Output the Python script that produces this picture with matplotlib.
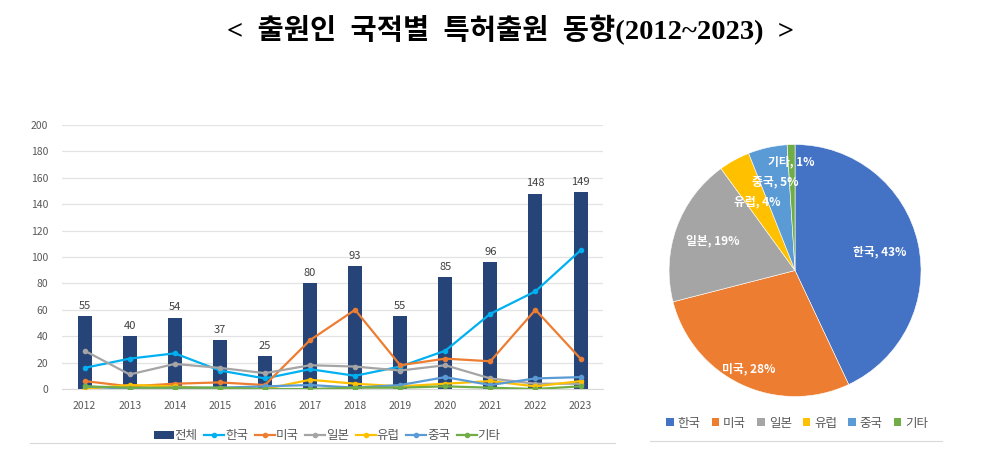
import matplotlib
matplotlib.use("Agg")
import matplotlib.pyplot as plt
import numpy as np
from matplotlib.lines import Line2D
from matplotlib.patches import Patch

plt.rcParams['font.family'] = ['Noto Sans CJK KR', 'DejaVu Sans']

years = ['2012', '2013', '2014', '2015', '2016', '2017',
         '2018', '2019', '2020', '2021', '2022', '2023']
total = [55, 40, 54, 37, 25, 80, 93, 55, 85, 96, 148, 149]
korea = [16, 23, 27, 14, 8, 15, 10, 17, 29, 57, 74, 105]
usa = [6, 2, 4, 5, 3, 37, 60, 18, 23, 21, 60, 23]
japan = [29, 11, 19, 16, 12, 18, 17, 14, 18, 8, 4, 4]
europe = [0, 3, 2, 0, 0, 7, 4, 2, 4, 6, 2, 6]
china = [2, 0, 1, 1, 2, 3, 1, 3, 9, 3, 8, 9]
other = [2, 1, 1, 1, 0, 0, 1, 1, 2, 1, 0, 2]

countries = ['한국', '미국', '일본', '유럽', '중국', '기타']
share = [43, 28, 19, 4, 5, 1]

bar_color = '#264478'
line_colors = ['#00B0F0', '#ED7D31', '#A5A5A5', '#FFC000', '#5B9BD5', '#70AD47']
pie_colors = ['#4472C4', '#ED7D31', '#A5A5A5', '#FFC000', '#5B9BD5', '#70AD47']
text_gray = '#595959'

fig = plt.figure(figsize=(9.88, 4.57), dpi=100)
fig.text(0.517, 0.934, '<  출원인  국적별  특허출원  동향(2012~2023)  >',
         ha='center', va='center', fontsize=20.5, fontweight='bold', color='black',
         family=['Liberation Serif', 'Noto Sans CJK KR'])

# bar + line chart
ax = fig.add_axes([0.0628, 0.1488, 0.5476, 0.5777])
x = np.arange(len(years))
bars = ax.bar(x, total, width=0.31, color=bar_color, zorder=2, label='전체')
for xi, v in zip(x, total):
    ax.text(xi, v + 4, str(v), ha='center', va='bottom', fontsize=8, color='#404040')

series = [korea, usa, japan, europe, china, other]
for name, vals, c in zip(countries, series, line_colors):
    ax.plot(x, vals, color=c, lw=1.6, marker='o', markersize=3, zorder=3, label=name)

ax.set_xlim(-0.5, 11.5)
ax.set_ylim(0, 200)
ax.set_yticks(range(0, 201, 20))
ax.set_xticks(x)
ax.set_xticklabels(years)
ax.tick_params(length=0, labelsize=7.5, colors=text_gray)
ax.tick_params(axis='x', pad=9)
ax.tick_params(axis='y', pad=10)
ax.grid(axis='y', color='#E3E3E3', lw=0.9, zorder=0)
for s in ['top', 'right', 'left']:
    ax.spines[s].set_visible(False)
ax.spines['bottom'].set_color('#D9D9D9')

handles, labels = ax.get_legend_handles_labels()
order = [6, 0, 1, 2, 3, 4, 5]
ax.legend([handles[i] for i in order], [labels[i] for i in order],
          loc='upper center', bbox_to_anchor=(0.49, -0.11), ncol=7, frameon=False,
          fontsize=9, handlelength=1.6, handletextpad=0.1, columnspacing=0.5,
          labelcolor=text_gray)

# pie chart
pax = fig.add_axes([0.6708, 0.1186, 0.2678, 0.579])
wedges, _ = pax.pie(share, colors=pie_colors, startangle=90, counterclock=False,
                    wedgeprops=dict(edgecolor='white', linewidth=0.4))
pax.set_xlim(-1.05, 1.05)
pax.set_ylim(-1.05, 1.05)
pax.set_aspect('equal')
label_r = [0.69, 0.86, 0.69, 0.62, 0.72, 0.86]
for w, name, pct, r in zip(wedges, countries, share, label_r):
    ang = np.deg2rad((w.theta1 + w.theta2) / 2)
    pax.text(r * np.cos(ang), r * np.sin(ang), f'{name}, {pct}%', ha='center', va='center',
             fontsize=8.5, color='white', fontweight='bold')

pie_handles = [Patch(facecolor=c, edgecolor='none') for c in pie_colors]
fig.legend(pie_handles, countries, loc='center', bbox_to_anchor=(0.807, 0.074), ncol=6,
           frameon=False, fontsize=9, handlelength=0.6, handleheight=0.6,
           handletextpad=0.3, columnspacing=0.9, labelcolor=text_gray)

# bottom borders of the chart boxes
fig.add_artist(Line2D([0.03, 0.622], [0.03, 0.03], color='#D9D9D9', lw=0.8))
fig.add_artist(Line2D([0.658, 0.953], [0.035, 0.035], color='#D9D9D9', lw=0.8))

fig.savefig('out.png', dpi=100)
